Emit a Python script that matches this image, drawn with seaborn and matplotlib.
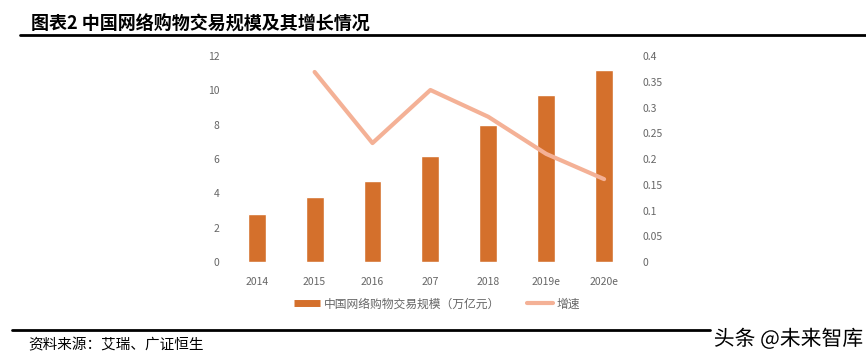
import numpy as np
import matplotlib
matplotlib.use("Agg")
import matplotlib.pyplot as plt
import matplotlib.patheffects as pe
from matplotlib.lines import Line2D
from matplotlib.ticker import FuncFormatter
import seaborn as sns

# data
years = ["2014", "2015", "2016", "207", "2018", "2019e", "2020e"]
scale = [2.8, 3.8, 4.7, 6.2, 8.0, 9.7, 11.2]            # 万亿元
growth = [np.nan, 0.369, 0.231, 0.334, 0.282, 0.210, 0.161]

bar_color = "#D4702C"
line_color = "#F4B196"
text_gray = "#666666"

sns.set_theme(style="white")
plt.rcParams["font.family"] = ["Noto Sans CJK SC", "DejaVu Sans"]

fig = plt.figure(figsize=(8.66, 3.59), dpi=100)
ax = fig.add_axes([0.263, 0.270, 0.468, 0.574])

sns.barplot(x=years, y=scale, color=bar_color, width=0.31, saturation=1, ax=ax)
ax.set_ylim(0, 12)
ax.set_yticks(range(0, 13, 2))
ax.set_xlim(-0.5, len(years) - 0.5)

ax2 = ax.twinx()
sns.lineplot(x=np.arange(len(years)), y=growth, color=line_color, linewidth=3,
             sort=False, ax=ax2)
ax2.set_ylim(0, 0.4)
ax2.set_yticks(np.arange(0, 0.41, 0.05))
ax2.yaxis.set_major_formatter(FuncFormatter(lambda v, p: f"{v:.2f}".rstrip("0").rstrip(".")))

for a in (ax, ax2):
    sns.despine(ax=a, left=True, right=True, top=True, bottom=True)
    a.tick_params(length=0, labelsize=7.5, labelcolor=text_gray)
    a.grid(False)
ax.tick_params(axis="y", pad=6)
ax.tick_params(axis="x", pad=11)
ax2.tick_params(axis="y", pad=7)

# legend
handles = [Line2D([], [], color=bar_color, linewidth=5, solid_capstyle="butt"),
           Line2D([], [], color=line_color, linewidth=3)]
fig.legend(handles, ["中国网络购物交易规模（万亿元）", "增速"], loc="center",
           bbox_to_anchor=(0.505, 0.153), ncol=2, frameon=False, fontsize=8.5,
           labelcolor=text_gray, handlelength=2.2, columnspacing=2.3, handletextpad=0.3)

# title and rules
fig.text(0.036, 0.936, "图表2 中国网络购物交易规模及其增长情况", fontsize=13,
         fontweight="bold", va="center", ha="left", color="black")
fig.add_artist(Line2D([0.023, 1.0], [0.903, 0.903], color="black", linewidth=2))
fig.add_artist(Line2D([0.014, 0.82], [0.081, 0.081], color="black", linewidth=2))

# source and watermark
fig.text(0.033, 0.038, "资料来源：艾瑞、广证恒生", fontsize=10.5, va="center", ha="left",
         color="black")
fig.text(0.997, 0.055, "头条 @未来智库", fontsize=15, va="center", ha="right",
         color="black", path_effects=[pe.withStroke(linewidth=3, foreground="white")])

fig.savefig("out.png", dpi=100)
